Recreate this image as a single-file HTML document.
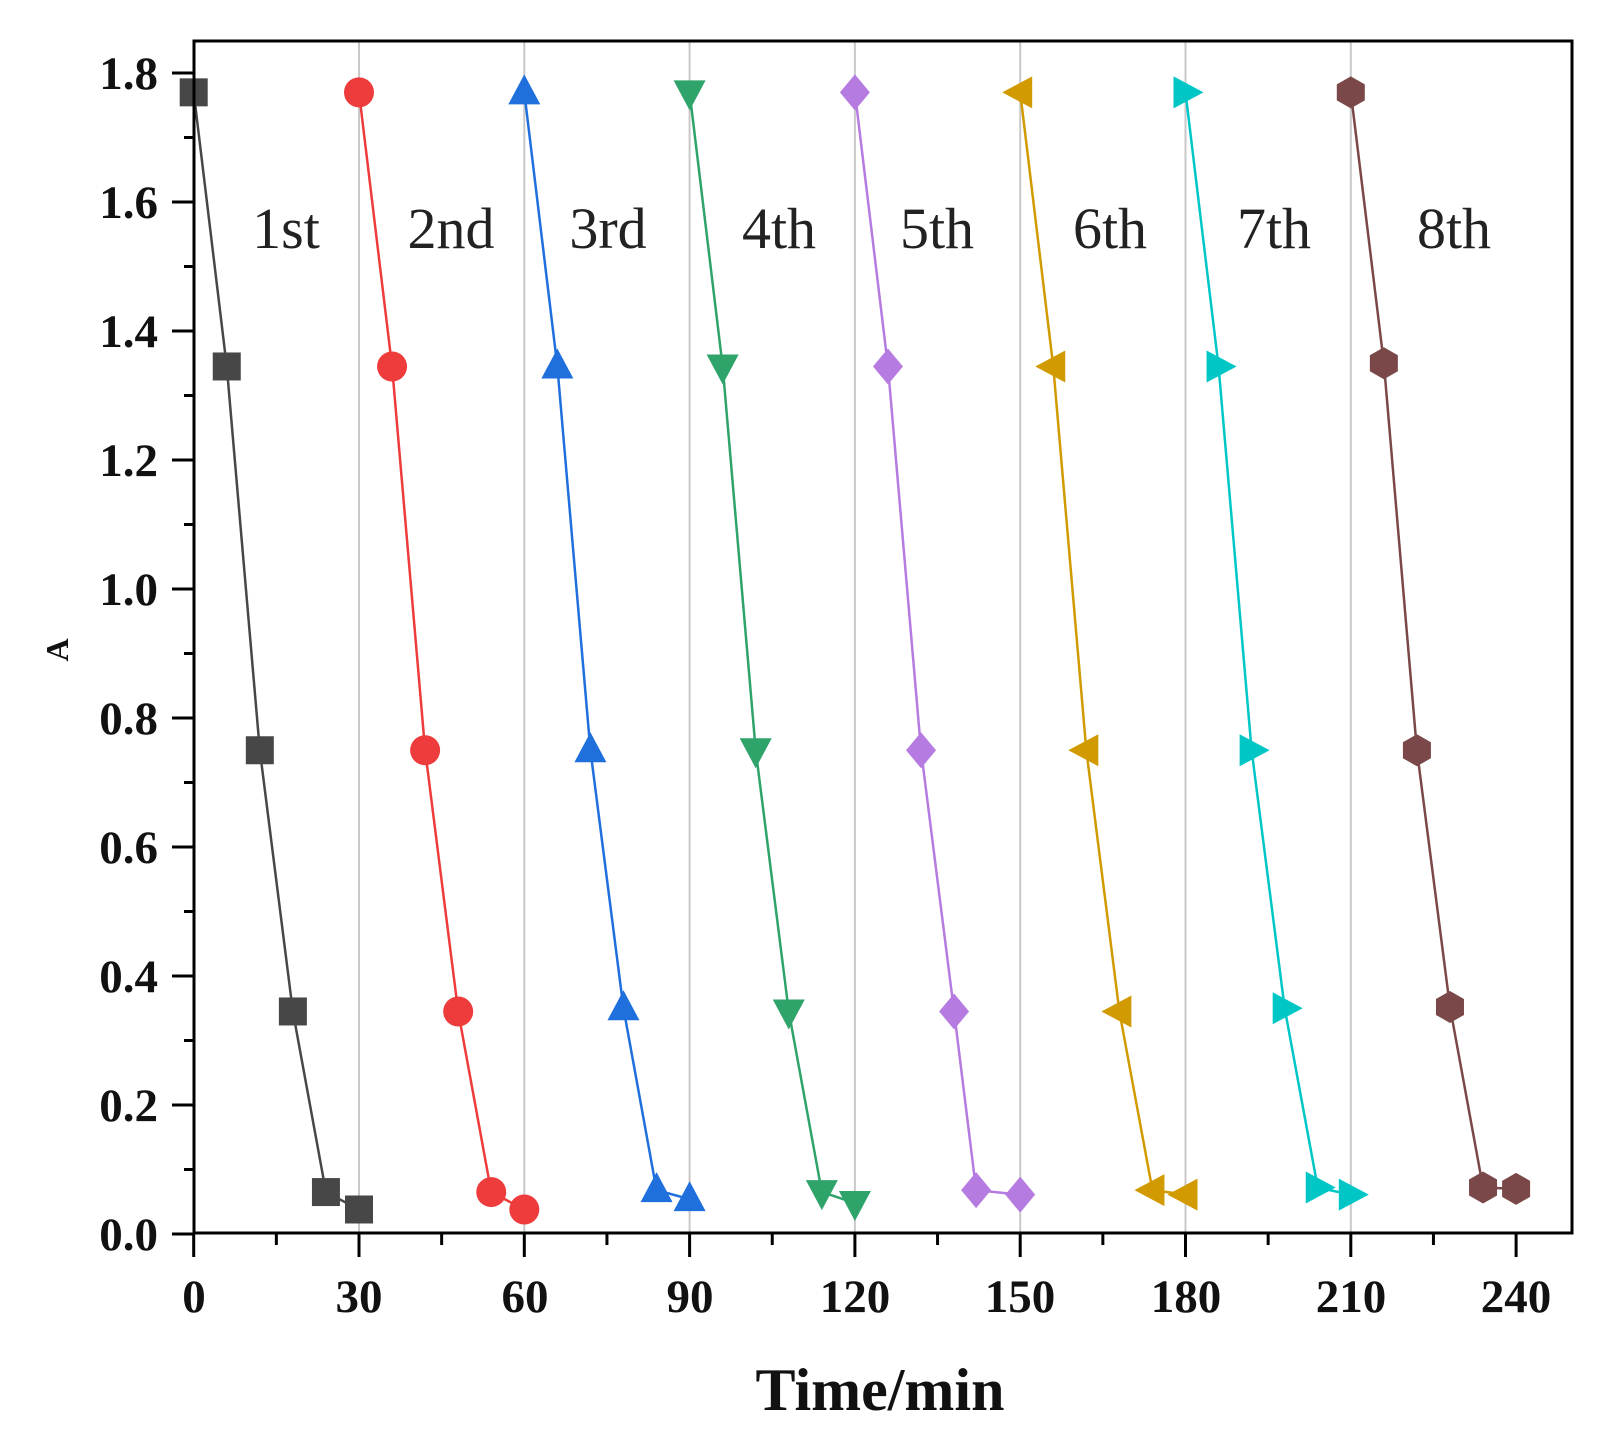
<!DOCTYPE html>
<html><head><meta charset="utf-8"><style>
html,body{margin:0;padding:0;background:#fff;}
svg{display:block;}
.tk{font-family:"Liberation Serif",serif;font-weight:bold;font-size:47px;fill:#111;}
.lb{font-family:"Liberation Serif",serif;font-size:58px;fill:#222;}
</style></head><body>
<svg id="s" width="1611" height="1440" viewBox="0 0 1611 1440" xmlns="http://www.w3.org/2000/svg">
<rect width="1611" height="1440" fill="#fff"/>
<g id="grid" stroke="#c8c8c8" stroke-width="2"></g>
<g id="data"></g>
<rect x="194" y="41" width="1378" height="1192" fill="none" stroke="#000" stroke-width="3"/>
<g id="ticks" stroke="#000" stroke-width="3"></g>
<g class="tk" text-anchor="end">
<text x="158" y="89">1.8</text><text x="158" y="218">1.6</text><text x="158" y="347">1.4</text>
<text x="158" y="476">1.2</text><text x="158" y="605">1.0</text><text x="158" y="734">0.8</text>
<text x="158" y="863">0.6</text><text x="158" y="992">0.4</text><text x="158" y="1121">0.2</text>
<text x="158" y="1250">0.0</text>
</g>
<g class="tk" text-anchor="middle">
<text x="194" y="1312">0</text><text x="359" y="1312">30</text><text x="525" y="1312">60</text>
<text x="690" y="1312">90</text><text x="855" y="1312">120</text><text x="1020" y="1312">150</text>
<text x="1186" y="1312">180</text><text x="1351" y="1312">210</text><text x="1516" y="1312">240</text>
</g>
<text x="880" y="1410" text-anchor="middle" font-family="Liberation Serif,serif" font-weight="bold" font-size="60" fill="#111">Time/min</text>
<text transform="translate(68,650) rotate(-90)" text-anchor="middle" font-family="Liberation Serif,serif" font-weight="bold" font-size="32" fill="#111">A</text>
<g class="lb" text-anchor="middle">
<text x="286" y="248">1st</text><text x="451" y="248">2nd</text><text x="608" y="248">3rd</text>
<text x="779" y="248">4th</text><text x="937" y="248">5th</text><text x="1110" y="248">6th</text>
<text x="1274" y="248">7th</text><text x="1454" y="248">8th</text>
</g>
</svg>
<script>
var NS="http://www.w3.org/2000/svg";
function X(t){return 193.7+5.51*t;}function Y(v){return 73+(1.8-v)*645;}
function el(p,n,a){var e=document.createElementNS(NS,n);for(var k in a)e.setAttribute(k,a[k]);document.getElementById(p).appendChild(e);return e;}
for(var i=1;i<=7;i++){el("grid","line",{x1:X(30*i),x2:X(30*i),y1:42,y2:1232});}
for(var t=0;t<=240;t+=15){var maj=t%30==0;el("ticks","line",{x1:X(t),x2:X(t),y1:1233,y2:maj?1257:1245});}
for(var v=0;v<=18;v++){var y=Y(v/10);var maj=v%2==0;el("ticks","line",{x1:194,x2:maj?172:184,y1:y,y2:y});}
var cols=["#474747","#ee3b3b","#1f6fdc","#2ea36a","#b57be0","#d19a00","#00c6c6","#7a4848"];
var vals=[[1.77,1.345,0.75,0.345,0.065,0.038],[1.77,1.345,0.75,0.345,0.065,0.038],[1.77,1.345,0.75,0.35,0.068,0.054],
[1.77,1.345,0.75,0.345,0.065,0.048],[1.77,1.345,0.75,0.345,0.068,0.061],[1.77,1.345,0.75,0.345,0.068,0.061],
[1.77,1.345,0.75,0.35,0.072,0.061],[1.77,1.35,0.75,0.352,0.072,0.07]];
for(var s=0;s<8;s++){
 var pts=vals[s].map(function(v,j){var t=30*s+6*j; if(s==4&&j==4)t=142; return [X(t),Y(v)];});
 el("data","polyline",{points:pts.map(function(p){return p.join(",");}).join(" "),fill:"none",stroke:cols[s],"stroke-width":2.5});
 pts.forEach(function(p){var x=p[0],y=p[1],c=cols[s],pp;
  if(s==0){el("data","rect",{x:x-14,y:y-14,width:28,height:28,fill:c});return;}
  if(s==1){el("data","circle",{cx:x,cy:y,r:15,fill:c});return;}
  if(s==2)pp=[[x,y-18],[x+16,y+12],[x-16,y+12]];
  if(s==3)pp=[[x,y+18],[x+16,y-12],[x-16,y-12]];
  if(s==4)pp=[[x,y-18],[x+15,y],[x,y+18],[x-15,y]];
  if(s==5)pp=[[x-18,y],[x+12,y-16],[x+12,y+16]];
  if(s==6)pp=[[x+18,y],[x-12,y-16],[x-12,y+16]];
  if(s==7)pp=[[x,y-16],[x+14,y-8],[x+14,y+8],[x,y+16],[x-14,y+8],[x-14,y-8]];
  el("data","polygon",{points:pp.map(function(q){return q.join(",");}).join(" "),fill:c});
 });
}
</script>
</body></html>
